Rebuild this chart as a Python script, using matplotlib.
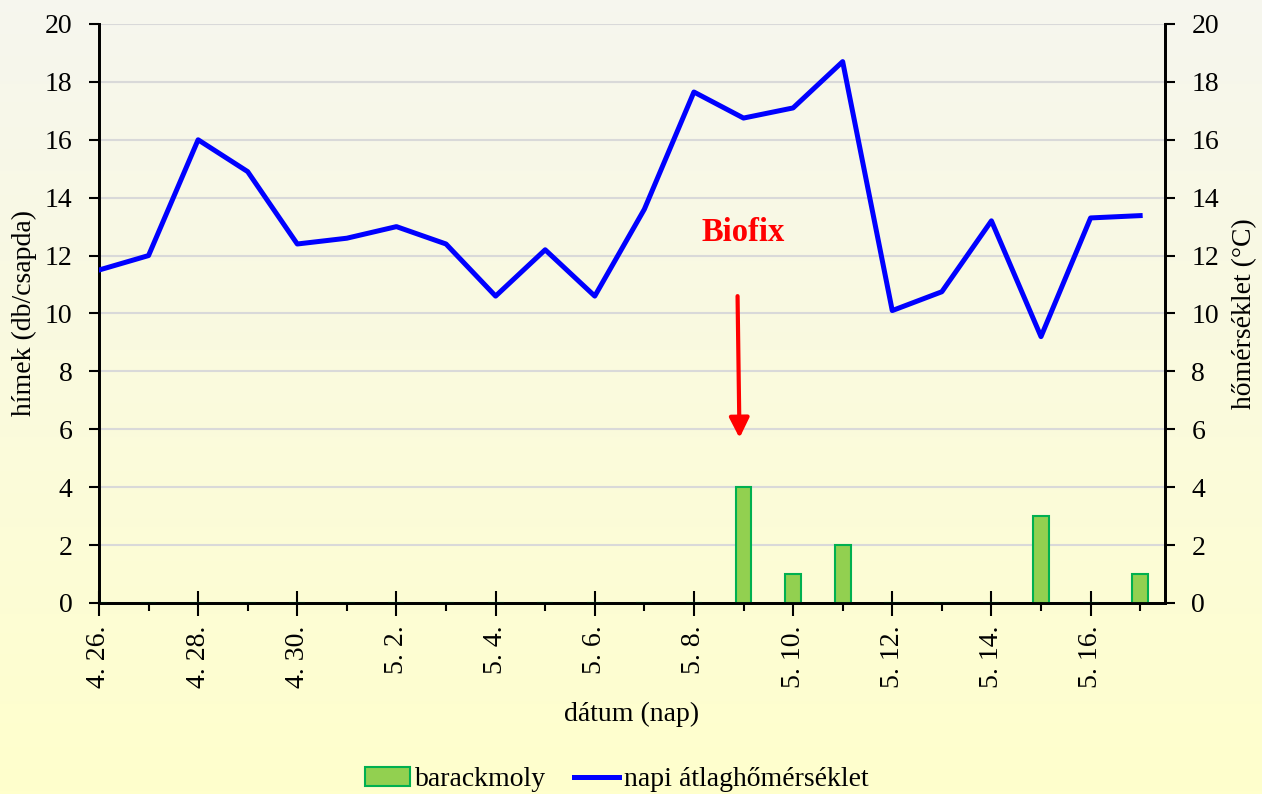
import numpy as np
import matplotlib.pyplot as plt
from matplotlib.patches import Patch
from matplotlib.lines import Line2D

# napi adatok 4.26 - 5.17
dates = ["4. 26.", "4. 27.", "4. 28.", "4. 29.", "4. 30.", "5. 1.", "5. 2.", "5. 3.",
         "5. 4.", "5. 5.", "5. 6.", "5. 7.", "5. 8.", "5. 9.", "5. 10.", "5. 11.",
         "5. 12.", "5. 13.", "5. 14.", "5. 15.", "5. 16.", "5. 17."]
moths = [0, 0, 0, 0, 0, 0, 0, 0, 0, 0, 0, 0, 0, 4, 1, 2, 0, 0, 0, 3, 0, 1]
temps = [11.5, 12.0, 16.0, 14.9, 12.4, 12.6, 13.0, 12.4, 10.6, 12.2, 10.6, 13.6,
         17.65, 16.75, 17.1, 18.7, 10.1, 10.75, 13.2, 9.2, 13.3, 13.38]

plt.rcParams['font.family'] = ['Liberation Serif', 'DejaVu Serif']
FS = 20

fig = plt.figure(figsize=(12.62, 7.94), dpi=100)

# background gradient (white -> light yellow)
bg = fig.add_axes([0, 0, 1, 1], zorder=-10)
grad = np.linspace(0, 1, 256).reshape(-1, 1, 1)
c_top = np.array([0.965, 0.965, 0.935])
c_bot = np.array([1.0, 1.0, 0.80])
img = c_top * (1 - grad) + c_bot * grad
bg.imshow(img, aspect='auto', extent=[0, 1, 0, 1])
bg.axis('off')

ax = fig.add_axes([0.0784, 0.2406, 0.8447, 0.7292])
ax.patch.set_alpha(0)
x = np.arange(len(dates))

ax.bar(x, moths, width=0.32, color='#92D050', edgecolor='#00B050', linewidth=1.5, zorder=3)
ax.set_ylim(0, 20)
ax.set_yticks(np.arange(0, 21, 2))
ax.set_xlim(0, len(dates) - 0.5)
ax.grid(axis='y', color='#D9D9D9', linewidth=1.5, zorder=0)
ax.set_axisbelow(True)

ax.set_xticks(x[::2])
ax.set_xticklabels(dates[::2], rotation=90, fontsize=FS)
ax.set_xticks(x, minor=True)
ax.tick_params(axis='x', which='major', direction='inout', length=18, width=1.5, pad=7)
ax.tick_params(axis='x', which='minor', direction='out', length=6, width=1.5)
ax.tick_params(axis='y', direction='out', length=7, width=1.5, labelsize=FS, pad=12)
ax.set_ylabel('hímek (db/csapda)', fontsize=FS)
ax.yaxis.set_label_coords(-0.058, 0.5)
ax.set_xlabel('dátum (nap)', fontsize=FS)
ax.xaxis.set_label_coords(0.5, -0.171)

ax2 = ax.twinx()
ax2.plot(x, temps, color='#0000FF', linewidth=3.6, zorder=4)
ax2.set_ylim(0, 20)
ax2.set_yticks(np.arange(0, 21, 2))
ax2.tick_params(axis='y', direction='out', length=7, width=1.5, labelsize=FS, pad=12)
ax2.set_ylabel('hőmérséklet (°C)', fontsize=FS)
ax2.yaxis.set_label_coords(1.063, 0.5)

for a in (ax, ax2):
    a.spines['top'].set_visible(False)
    for s in ('left', 'right', 'bottom'):
        a.spines[s].set_linewidth(2)

ax.annotate('', xy=(12.92, 5.7), xytext=(12.88, 10.6),
            arrowprops=dict(arrowstyle='-|>,head_length=0.6,head_width=0.3',
                            mutation_scale=20, color='#FF0000', lw=3,
                            shrinkA=0, shrinkB=0))
ax.text(13.0, 12.8, 'Biofix', color='#FF0000', fontsize=23.5, fontweight='bold',
        ha='center', va='center')

handles = [Patch(facecolor='#92D050', edgecolor='#00B050', linewidth=1.5),
           Line2D([], [], color='#0000FF', linewidth=3.6)]
fig.legend(handles, ['barackmoly', 'napi átlaghőmérséklet'], loc='center',
           bbox_to_anchor=(0.489, 0.018), ncol=2, frameon=False, fontsize=FS,
           handlelength=1.6, handletextpad=0.2, columnspacing=1.0)

fig.savefig('out.png', dpi=100)
